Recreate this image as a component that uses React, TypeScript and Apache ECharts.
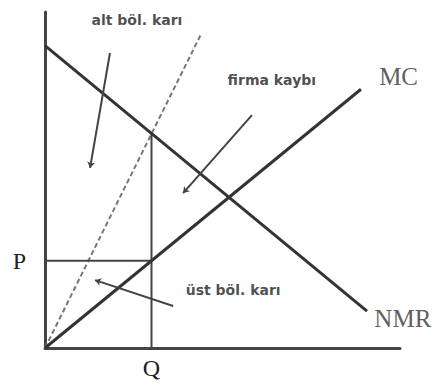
import React, { useEffect, useRef } from "react";
import * as echarts from "echarts";

// Curves (economic units)
const nmrLine: number[][] = [[0, 9.0], [9.07, 1.1]];
const mcLine: number[][] = [[0, 0], [8.9, 7.7]];
const dashedLine: number[][] = [[0, 0], [4.4, 9.35]];
const qValue = 3;
const pValue = 2.6;
const qLine: number[][] = [[qValue, 0], [qValue, 6.4]];
const pLine: number[][] = [[0, pValue], [qValue, pValue]];

// Annotation arrows: [from, to]
const arrows: number[][][] = [
  [[1.83, 8.78], [1.27, 5.36]],
  [[5.83, 6.93], [3.89, 4.61]],
  [[3.61, 1.25], [1.41, 2.02]],
];

// Annotation texts
const notes: { name: string; value: number[] }[] = [
  { name: "alt böl. karı", value: [2.59, 9.76] },
  { name: "firma kaybı", value: [6.39, 7.98] },
  { name: "üst böl. karı", value: [5.3, 1.72] },
];

// Curve names
const curveNames: { name: string; value: number[] }[] = [
  { name: "MC", value: [9.96, 8.07] },
  { name: "NMR", value: [10.08, 0.89] },
];

const xTickLabels = ["Q"];
const yTickLabels = ["P"];

const serif = "Liberation Serif";
const sans = "DejaVu Sans";

export default function App() {
  const ref = useRef<HTMLDivElement>(null);
  useEffect(() => {
    if (!ref.current) return;
    const chart = echarts.init(ref.current, null, { renderer: "svg" });
    const lineColor = "#333";
    chart.setOption({
      animation: false,
      backgroundColor: "#fff",
      grid: { left: 45, top: 12, right: 35, bottom: 41, containLabel: false },
      xAxis: {
        type: "value",
        min: 0,
        max: 10,
        splitLine: { show: false },
        axisTick: { show: false },
        axisLine: { show: true, onZero: false, lineStyle: { color: "#444", width: 3 } },
        axisLabel: {
          customValues: [qValue],
          formatter: () => xTickLabels[0],
          fontFamily: serif,
          fontSize: 24,
          color: "#222",
          margin: 8,
        },
      },
      yAxis: {
        type: "value",
        min: 0,
        max: 10,
        splitLine: { show: false },
        axisTick: { show: false },
        axisLine: { show: true, onZero: false, lineStyle: { color: "#444", width: 3 } },
        axisLabel: {
          customValues: [pValue],
          formatter: () => yTickLabels[0],
          fontFamily: serif,
          fontSize: 24,
          color: "#222",
          margin: 19,
          verticalAlign: "middle",
          padding: [6, 0, 0, 0],
        },
      },
      series: [
        {
          type: "line",
          data: dashedLine,
          symbol: "none",
          lineStyle: { color: "#777", width: 2, type: [5, 3] },
          z: 2,
        },
        {
          type: "line",
          data: qLine,
          symbol: "none",
          lineStyle: { color: "#444", width: 2 },
          z: 2,
        },
        {
          type: "line",
          data: pLine,
          symbol: "none",
          lineStyle: { color: "#444", width: 2 },
          z: 2,
        },
        {
          type: "line",
          data: nmrLine,
          symbol: "none",
          lineStyle: { color: lineColor, width: 3 },
          z: 3,
        },
        {
          type: "line",
          data: mcLine,
          symbol: "none",
          lineStyle: { color: lineColor, width: 3 },
          z: 3,
        },
        {
          type: "lines",
          coordinateSystem: "cartesian2d",
          symbol: ["none", "arrow"],
          symbolSize: 6,
          lineStyle: { color: "#444", width: 2, opacity: 1, curveness: 0 },
          data: arrows.map((a) => ({ coords: a })),
          z: 4,
        },
        {
          type: "scatter",
          symbolSize: 0,
          clip: false,
          data: notes,
          label: {
            show: true,
            position: "inside",
            formatter: (p: any) => p.name,
            fontFamily: sans,
            fontWeight: "bold",
            fontSize: 14,
            color: "#1e1e1e",
          },
          z: 5,
        },
        {
          type: "scatter",
          symbolSize: 0,
          clip: false,
          data: curveNames,
          label: {
            show: true,
            position: "inside",
            formatter: (p: any) => p.name,
            fontFamily: serif,
            fontSize: 25,
            color: "#333",
          },
          z: 5,
        },
      ],
    });
    return () => chart.dispose();
  }, []);
  return (
    <div
      ref={ref}
      style={{ position: "fixed", left: 0, top: 0, width: 435, height: 389 }}
    />
  );
}
